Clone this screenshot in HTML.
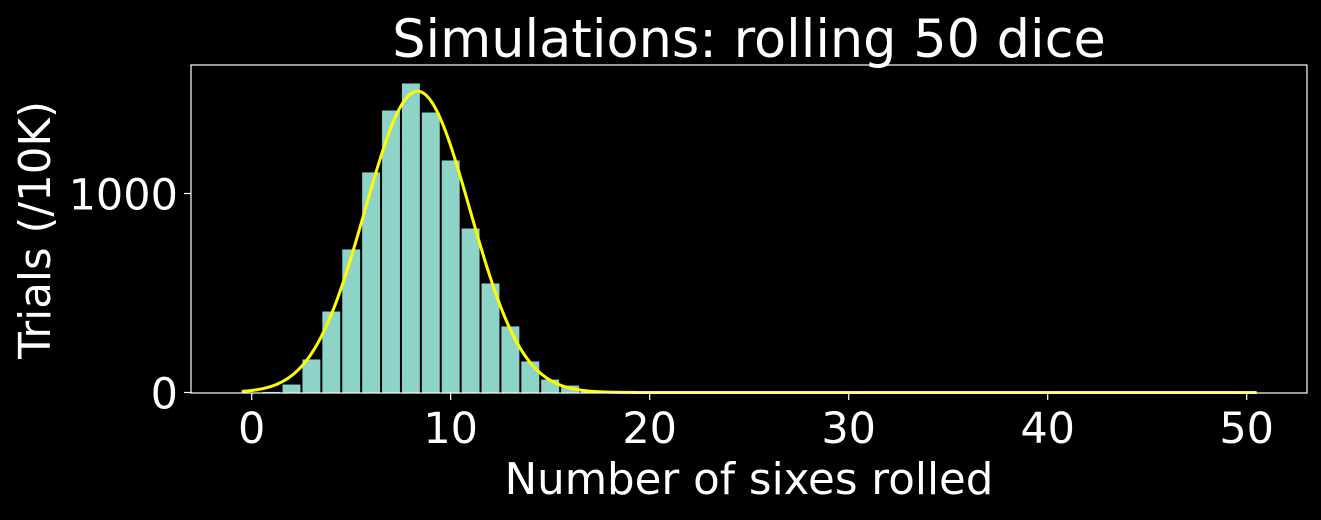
<!DOCTYPE html>
<html><head><meta charset="utf-8"><style>
html,body{margin:0;padding:0;background:#000;}
svg text{font-family:"DejaVu Sans","Liberation Sans",sans-serif;fill:#fff;}
</style></head><body>
<svg id="chart" width="1321" height="515">
<rect width="1321" height="515" fill="#000"/>
<text x="749" y="57" font-size="52.5" text-anchor="middle">Simulations: rolling 50 dice</text>
<g id="bars"></g>
<path id="curve" fill="none" stroke="#ffff00" stroke-width="3"/>
<rect x="191" y="65" width="1116" height="328" fill="none" stroke="#fff" stroke-width="1.2"/>
<g id="xticks"></g>
<g id="yticks"></g>
<text x="749" y="494" font-size="43.5" text-anchor="middle">Number of sixes rolled</text>
<text transform="translate(50,230) rotate(-90)" font-size="43.5" text-anchor="middle">Trials (/10K)</text>
</svg>
<script>
const sixes=[0,1,2,3,4,5,6,7,8,9,10,11,12,13,14,15,16,17,18];
const trials=[0,3,40,166,407,719,1106,1417,1553,1407,1166,824,548,332,156,65,35,10,3];
const xTicks=[0,10,20,30,40,50];
const yTicks=[0,1000];
const fitMean=50/6, fitSd=Math.sqrt(50*(1/6)*(5/6)), fitTotal=10000;
const NS="http://www.w3.org/2000/svg";
const X=v=>251.7+v*19.9;
const Y=v=>392.5-v*0.199;
const bars=document.getElementById('bars');
sixes.forEach((k,i)=>{
  if(trials[i]<=0)return;
  const r=document.createElementNS(NS,'rect');
  r.setAttribute('x',X(k-0.45));r.setAttribute('width',X(k+0.5)-X(k-0.45)-1);
  r.setAttribute('y',Y(trials[i]));r.setAttribute('height',Y(0)-Y(trials[i]));
  r.setAttribute('fill','#8dd3c7');
  
  
  bars.appendChild(r);
});
let d='';
for(let x=-0.5;x<=50.5;x+=0.05){
  const y=fitTotal/(fitSd*Math.sqrt(2*Math.PI))*Math.exp(-((x-fitMean)**2)/(2*fitSd*fitSd));
  d+=(d?'L':'M')+X(x).toFixed(2)+','+Y(y).toFixed(2);
}
document.getElementById('curve').setAttribute('d',d);
const xt=document.getElementById('xticks');
xTicks.forEach(t=>{
  const l=document.createElementNS(NS,'line');
  l.setAttribute('x1',X(t));l.setAttribute('x2',X(t));l.setAttribute('y1',393);l.setAttribute('y2',400);
  l.setAttribute('stroke','#fff');l.setAttribute('stroke-width','1.2');
  
  
  xt.appendChild(l);
  const s=document.createElementNS(NS,'text');
  s.setAttribute('x',X(t));s.setAttribute('y',443);s.setAttribute('font-size','43');s.setAttribute('text-anchor','middle');
  s.textContent=t;
  
  
  xt.appendChild(s);
});
const yt=document.getElementById('yticks');
yTicks.forEach(t=>{
  const l=document.createElementNS(NS,'line');
  l.setAttribute('x1',184);l.setAttribute('x2',191);l.setAttribute('y1',Y(t));l.setAttribute('y2',Y(t));
  l.setAttribute('stroke','#fff');l.setAttribute('stroke-width','1.2');
  
  
  yt.appendChild(l);
  const s=document.createElementNS(NS,'text');
  s.setAttribute('x',178);s.setAttribute('y',Y(t)+16);s.setAttribute('font-size','43');s.setAttribute('text-anchor','end');
  s.textContent=t;
  
  
  yt.appendChild(s);
});
</script>
</body></html>
